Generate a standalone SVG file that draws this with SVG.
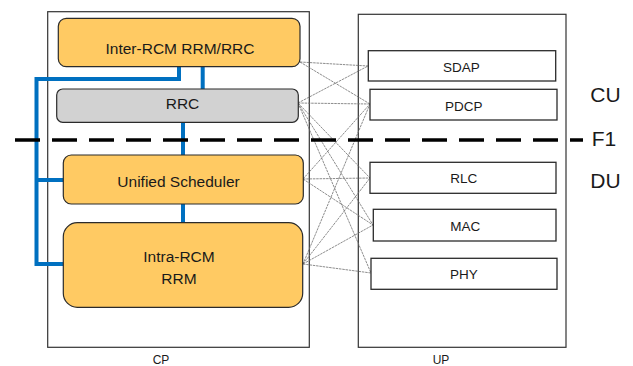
<svg xmlns="http://www.w3.org/2000/svg" width="633" height="366" viewBox="0 0 633 366">
<style>
  .t { font-family: "Liberation Sans", Arial, sans-serif; fill: #1a1a1a; text-anchor: middle; }
  .cont { fill: #ffffff; stroke: #333333; stroke-width: 1.2; }
  .orange { fill: #FFCA63; stroke: #2b2b2b; stroke-width: 1.2; }
  .grey { fill: #D2D2D2; stroke: #2b2b2b; stroke-width: 1.2; }
  .layer { fill: #ffffff; stroke: #2b2b2b; stroke-width: 1.3; }
  .blue { fill: none; stroke: #0070C0; stroke-width: 4; }
  .thin { fill: none; stroke: #6e6e6e; stroke-width: 0.8; stroke-dasharray: 2.5 0.8; }
  .f1 { fill: none; stroke: #000000; stroke-width: 3.5; stroke-dasharray: 25 12; }
  .m { font-size: 15.5px; }
  .s { font-size: 13.5px; }
  .l { font-size: 21px; }
  .c { font-size: 12px; }
</style>
<rect width="633" height="366" fill="#ffffff"/>

<g id="cp">
  <rect class="cont" x="47.7" y="11.7" width="261.6" height="335.6"/>
  <text class="t c" x="161" y="364">CP</text>
</g>
<g id="up">
  <rect class="cont" x="358.3" y="14.3" width="207.7" height="333"/>
  <text class="t c" x="441" y="364">UP</text>
</g>

<g id="connectors">
  <path class="blue" d="M179,67 V79 H36.5 V264 H63.5 M36.5,180 H63.5"/>
  <path class="blue" d="M202.7,67 V89"/>
  <path class="blue" d="M183,122 V155"/>
  <path class="blue" d="M183,204 V223"/>
  <line class="thin" x1="300" y1="62" x2="368" y2="66"/>
  <line class="thin" x1="300" y1="62" x2="370" y2="104"/>
  <line class="thin" x1="298" y1="103" x2="368" y2="66"/>
  <line class="thin" x1="298" y1="103" x2="370" y2="104"/>
  <line class="thin" x1="298" y1="103" x2="370" y2="178"/>
  <line class="thin" x1="298" y1="103" x2="373" y2="225"/>
  <line class="thin" x1="298" y1="103" x2="371" y2="273"/>
  <line class="thin" x1="303" y1="179" x2="370" y2="104"/>
  <line class="thin" x1="303" y1="179" x2="370" y2="178"/>
  <line class="thin" x1="303" y1="179" x2="373" y2="225"/>
  <line class="thin" x1="303" y1="264" x2="370" y2="104"/>
  <line class="thin" x1="303" y1="264" x2="370" y2="178"/>
  <line class="thin" x1="303" y1="264" x2="373" y2="225"/>
  <line class="thin" x1="303" y1="264" x2="371" y2="273"/>
</g>

<g id="f1-line">
  <line class="f1" x1="15" y1="140" x2="583" y2="140"/>
</g>

<g id="inter-rcm">
  <rect class="orange" x="58.3" y="18.3" width="241.7" height="48.4" rx="8"/>
  <text class="t m" x="180" y="53.5">Inter-RCM RRM/RRC</text>
</g>
<g id="rrc">
  <rect class="grey" x="56.7" y="89" width="241.6" height="33.3" rx="6"/>
  <text class="t m" x="182.5" y="108.5">RRC</text>
</g>
<g id="unified-scheduler">
  <rect class="orange" x="63.3" y="155" width="240" height="49" rx="8"/>
  <text class="t m" x="178.5" y="187">Unified Scheduler</text>
</g>
<g id="intra-rcm">
  <rect class="orange" x="63.3" y="222.7" width="239.4" height="84.6" rx="14"/>
  <text class="t m" x="179" y="262.3">Intra-RCM</text>
  <text class="t m" x="179" y="284">RRM</text>
</g>

<g id="sdap">
  <rect class="layer" x="368.3" y="50.7" width="187.4" height="30.3"/>
  <text class="t s" x="461.5" y="71.7">SDAP</text>
</g>
<g id="pdcp">
  <rect class="layer" x="370" y="89.3" width="187" height="30.7"/>
  <text class="t s" x="463.8" y="111">PDCP</text>
</g>
<g id="rlc">
  <rect class="layer" x="370" y="162.3" width="186" height="31"/>
  <text class="t s" x="463.8" y="183.3">RLC</text>
</g>
<g id="mac">
  <rect class="layer" x="373.3" y="209.3" width="182.7" height="31.7"/>
  <text class="t s" x="465.3" y="230.7">MAC</text>
</g>
<g id="phy">
  <rect class="layer" x="371" y="258.3" width="186" height="31"/>
  <text class="t s" x="464" y="279.3">PHY</text>
</g>

<g id="labels">
  <text class="t l" x="605.5" y="101.7">CU</text>
  <text class="t l" x="604" y="145.7">F1</text>
  <text class="t l" x="605.5" y="187.7">DU</text>
</g>
</svg>
